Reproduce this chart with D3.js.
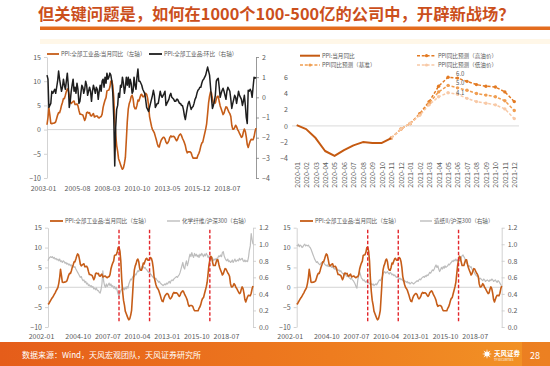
<!DOCTYPE html>
<html><head><meta charset="utf-8">
<script src="https://cdn.jsdelivr.net/npm/d3@7/dist/d3.min.js"></script>
<style>
html,body{margin:0;padding:0;background:#fff;}
svg{display:block;}
</style></head>
<body>
<svg id="chart" width="550" height="366"></svg>
<script>
const FONT = '"Noto Sans CJK SC","Noto Sans",sans-serif';
const titleText = "但关键问题是，如何在1000个100-500亿的公司中，开辟新战场？";
const sourceText = "数据来源：Wind，天风宏观团队，天风证券研究所";
const pageNo = "28";

// PPI YoY (全部工业品:当月同比), monthly from 2002-01
const ppiStart = "2002-01";
const ppiYoY = [
 -4.3,-4.1,-3.7,-3.3,-2.9,-2.6,-2.2,-1.8,-1.4,-0.9,-0.5,-0.1,
 1.0,2.5,4.5,3.0,1.3,1.2,1.3,1.3,1.4,1.6,2.3,3.0,
 3.5,3.5,4.1,5.0,5.6,6.4,6.4,7.1,7.9,8.4,8.1,7.1,
 5.8,5.4,5.6,5.8,5.9,5.2,5.2,5.3,4.9,4.0,3.2,3.2,
 3.1,3.0,2.5,1.9,2.4,3.5,3.6,3.4,3.5,2.9,2.8,3.1,
 3.3,2.6,2.7,2.8,2.8,2.5,2.4,2.6,2.7,3.2,4.6,5.4,
 6.1,6.6,8.0,8.1,8.2,8.8,10.0,10.1,9.1,6.6,2.0,-1.1,
 -3.3,-4.5,-6.0,-6.6,-7.2,-7.8,-8.2,-7.9,-7.0,-5.8,-2.1,1.7,
 4.3,5.4,5.9,6.8,7.1,6.4,4.8,4.3,4.3,5.0,6.1,5.9,
 6.6,7.2,7.3,6.8,6.8,7.1,7.5,7.3,6.5,5.0,2.7,1.7,
 0.7,0.0,-0.3,-0.7,-1.4,-2.1,-2.9,-3.5,-3.6,-2.8,-2.2,-1.9,
 -1.6,-1.6,-1.9,-2.6,-2.9,-2.7,-2.3,-1.6,-1.3,-1.5,-1.4,-1.4,
 -1.6,-2.0,-2.3,-2.0,-1.4,-1.1,-0.9,-1.2,-1.8,-2.2,-2.7,-3.3,
 -4.3,-4.8,-4.6,-4.6,-4.6,-4.8,-5.4,-5.9,-5.9,-5.9,-5.9,-5.9,
 -5.3,-4.9,-4.3,-3.4,-2.8,-2.6,-1.7,-0.8,0.1,1.2,3.3,5.5,
 6.9,7.8,7.6,6.4,5.5,5.5,5.5,6.3,6.9,6.9,5.8,4.9,
 4.3,3.7,3.1,3.4,4.1,4.7,4.6,4.1,3.6,3.3,2.7,0.9,
 0.1,0.1,0.4,0.9,0.6,0.0,-0.3,-0.8,-1.2,-1.6,-1.4,-0.5,
 0.1,-0.4,-1.5,-3.1,-3.7,-3.0,-2.4,-2.0,-2.1,-2.1,-1.5,-0.4,
 0.3
];
// PPI MoM (环比), monthly from 2003-01
const momStart = "2003-01";
const ppiMoM = [
 1.1,0.9,-0.5,-0.4,-0.3,0.3,0.2,0.3,0.4,0.2,0.5,0.8,
 1.3,0.9,0.6,0.3,0.5,0.9,0.6,0.4,0.8,1.2,0.6,-0.5,
 -0.2,0.3,0.6,0.9,0.3,0.5,0.2,0.7,0.4,-0.3,-0.2,0.2,
 0.6,0.5,0.2,0.4,0.8,0.6,0.1,0.3,0.5,0.3,-0.2,0.3,
 0.6,0.4,0.2,0.5,0.4,-0.1,0.3,0.6,0.3,0.8,0.9,0.5,
 1.0,0.7,1.2,0.9,1.0,1.2,1.1,0.8,0.2,-1.0,-3.4,-1.5,
 -0.6,-0.4,0.2,0.0,0.6,0.5,1.0,0.7,0.2,0.5,1.0,0.6,
 1.0,0.5,0.9,0.7,0.2,0.3,1.0,0.6,0.4,1.0,1.4,0.8,
 0.8,0.7,0.6,0.4,0.3,0.2,-0.1,-0.5,-0.6,-0.7,-0.5,-0.3,
 -0.1,0.1,0.35,0.1,-0.5,-0.4,-0.3,-0.3,0.0,0.3,0.1,0.0,
 0.1,0.2,0.3,-0.4,-0.3,-0.2,-0.1,0.1,0.2,0.0,-0.05,-0.1,
 -0.2,-0.2,-0.1,-0.1,-0.2,-0.3,-0.3,-0.4,-0.4,-0.6,-0.9,-1.1,
 -0.8,-0.5,-0.3,-0.2,-0.4,-0.6,-0.5,-0.45,-0.3,-0.1,0.0,0.2,
 0.35,0.4,0.5,0.5,0.7,0.85,0.9,1.0,1.1,1.3,1.5,1.3,
 1.1,0.5,0.0,-0.55,-0.4,-0.2,0.1,0.8,0.9,0.95,0.5,0.0,
 0.2,0.35,0.45,0.3,0.1,-0.1,0.3,0.5,0.4,0.3,-0.1,-0.55,
 -0.3,-0.1,0.1,0.0,-0.3,0.0,0.3,0.1,0.0,-0.1,-0.4,-0.2,
 0.1,-0.4,-1.0,-1.3,0.35,0.3,0.4,0.3,0.0,0.5,1.0,0.95,
 1.0
];
// 化学纤维/沪深300, monthly from 2002-01
const chemRatio = [
 0.80,0.83,0.84,0.85,0.84,0.85,0.83,0.84,0.82,0.83,0.81,0.82,
 0.80,0.82,0.79,0.80,0.78,0.80,0.79,0.77,0.78,0.76,0.77,0.75,
 0.76,0.74,0.75,0.73,0.74,0.72,0.73,0.70,0.68,0.66,0.64,0.62,
 0.60,0.61,0.58,0.56,0.57,0.54,0.55,0.52,0.53,0.50,0.51,0.49,
 0.50,0.48,0.49,0.46,0.47,0.45,0.47,0.44,0.44,0.42,0.41,0.45,
 0.52,0.68,0.55,0.50,0.48,0.52,0.49,0.51,0.53,0.50,0.52,0.49,
 0.50,0.47,0.49,0.46,0.48,0.44,0.40,0.37,0.41,0.44,0.46,0.45,
 0.47,0.45,0.48,0.46,0.49,0.47,0.52,0.55,0.58,0.57,0.60,0.62,
 0.61,0.64,0.63,0.66,0.68,0.67,0.70,0.69,0.72,0.74,0.73,0.71,
 0.72,0.70,0.69,0.67,0.66,0.67,0.64,0.63,0.61,0.60,0.59,0.58,
 0.59,0.57,0.56,0.54,0.55,0.53,0.52,0.51,0.50,0.51,0.52,0.51,
 0.53,0.52,0.54,0.55,0.53,0.56,0.57,0.56,0.58,0.59,0.60,0.61,
 0.60,0.62,0.63,0.66,0.70,0.74,0.78,0.72,0.70,0.76,0.80,0.74,
 0.78,0.84,0.88,0.85,0.90,0.86,0.84,0.89,0.86,0.88,0.85,0.87,
 0.84,0.88,0.86,0.89,0.87,0.85,0.88,0.86,0.89,0.87,0.84,0.86,
 0.79,0.82,0.84,0.83,0.80,0.82,0.81,0.83,0.80,0.84,0.86,0.85,
 0.87,0.85,0.90,0.91,0.86,0.83,0.81,0.80,0.82,0.79,0.80,0.78,
 0.79,0.81,0.78,0.80,0.82,0.79,0.80,0.81,0.80,0.83,0.81,0.82,
 0.83,0.80,0.79,0.81,0.79,0.80,0.79,0.84,0.93,0.98,1.13,1.06,
 1.00
];
// 造纸II/沪深300, monthly from 2002-01
const paperRatio = [
 0.99,0.98,1.00,0.97,0.99,0.98,0.96,0.97,0.99,1.00,0.98,0.99,
 0.98,0.99,0.97,0.96,0.94,0.91,0.88,0.85,0.82,0.80,0.78,0.79,
 0.77,0.76,0.75,0.77,0.78,0.79,0.78,0.76,0.75,0.74,0.75,0.73,
 0.74,0.73,0.74,0.72,0.73,0.71,0.70,0.71,0.69,0.70,0.68,0.69,
 0.67,0.68,0.66,0.65,0.64,0.63,0.64,0.62,0.61,0.62,0.60,0.59,
 0.58,0.59,0.57,0.56,0.54,0.52,0.49,0.47,0.57,0.62,0.67,0.63,
 0.59,0.58,0.56,0.57,0.55,0.54,0.56,0.53,0.54,0.52,0.53,0.52,
 0.51,0.52,0.50,0.51,0.52,0.51,0.53,0.55,0.57,0.56,0.58,0.60,
 0.64,0.66,0.67,0.65,0.66,0.67,0.65,0.64,0.66,0.65,0.63,0.64,
 0.62,0.63,0.61,0.60,0.61,0.59,0.58,0.59,0.57,0.58,0.56,0.55,
 0.56,0.55,0.54,0.55,0.53,0.54,0.52,0.53,0.54,0.53,0.52,0.53,
 0.54,0.55,0.56,0.55,0.57,0.58,0.57,0.59,0.60,0.61,0.60,0.62,
 0.61,0.63,0.62,0.64,0.66,0.65,0.67,0.69,0.68,0.70,0.73,0.75,
 0.72,0.74,0.70,0.67,0.69,0.72,0.70,0.73,0.71,0.74,0.72,0.73,
 0.74,0.76,0.75,0.77,0.78,0.80,0.79,0.81,0.80,0.82,0.80,0.81,
 0.79,0.81,0.80,0.84,0.86,0.87,0.85,0.83,0.79,0.77,0.76,0.73,
 0.74,0.72,0.73,0.70,0.68,0.67,0.65,0.63,0.62,0.61,0.60,0.58,
 0.59,0.58,0.57,0.56,0.58,0.57,0.55,0.56,0.57,0.56,0.55,0.57,
 0.56,0.58,0.57,0.55,0.56,0.57,0.55,0.54,0.56,0.55,0.53,0.51,
 0.50
];
const topTicks = ["2003-01","2005-08","2008-03","2010-10","2013-05","2015-12","2018-07"];
const bottomTicks = ["2002-01","2004-10","2007-07","2010-04","2013-01","2015-10","2018-07"];
const yoyTicks = [-10,-5,0,5,10,15];
const momTicks = [-4,-3,-2,-1,0,1,2];
const ratioTicks = [0,0.2,0.4,0.6,0.8,1.0,1.2];
const peakDates = ["2008-08","2011-06","2017-01"];

// Panel 2: PPI forecast
const months2 = ["2020-01","2020-02","2020-03","2020-04","2020-05","2020-06","2020-07","2020-08","2020-09","2020-10","2020-11","2020-12",
 "2021-01","2021-02","2021-03","2021-04","2021-05","2021-06","2021-07","2021-08","2021-09","2021-10","2021-11","2021-12"];
const actual2 = [0.1,-0.4,-1.5,-3.1,-3.7,-3.0,-2.4,-2.0,-2.1,-2.1,-1.5];
const fcStart2 = "2020-11";
const fcBase = [-1.5,-0.4,0.3,1.4,2.8,4.2,5.0,4.7,4.4,4.0,3.8,3.6,3.1,1.9];
const fcHigh = [-1.5,-0.4,0.3,1.5,3.0,4.9,6.0,5.9,5.5,5.1,4.9,4.8,4.2,3.0];
const fcLow  = [-1.5,-0.4,0.3,1.3,2.6,3.6,4.1,3.9,3.4,3.0,2.8,2.6,2.1,0.9];
const ticks2 = [-4,-2,0,2,4,6];
const labelMonth2 = "2021-05";

const legendP1 = ["PPI:全部工业品:当月同比（左轴）","PPI:全部工业品:环比（右轴）"];
const legendP2 = ["PPI:当月同比","PPI同比预测（基准）","PPI同比预测（高油价）","PPI同比预测（低油价）"];
const legendP3 = ["PPI:全部工业品:当月同比（左轴）","化学纤维/沪深300（右轴）"];
const legendP4 = ["PPI:全部工业品:当月同比（左轴）","造纸II/沪深300（右轴）"];

// ---------------------------------------------------------------
const C_PPI = "#C65D18", C_BLACK = "#1E1E1E", C_GRAY = "#BDBDBD", C_RED = "#E3262B";
const C_TXT = "#595959";
const svg = d3.select("#chart").attr("font-family", FONT);
const fmtM = s => { const [y, m] = s.split("-").map(Number); return new Date(y, m - 1, 1); };
const addM = (d, k) => new Date(d.getFullYear(), d.getMonth() + k, 1);

// header
svg.append("rect").attr("x", 40).attr("y", 39).attr("width", 510).attr("height", 5).attr("fill", "#FFF7E8");
svg.append("text").attr("x", 38).attr("y", 20).attr("font-size", 16.3).attr("font-weight", "bold")
  .attr("fill", "#CB4F1C").text(titleText);
svg.append("rect").attr("x", 40).attr("y", 26.5).attr("width", 510).attr("height", 3.5).attr("fill", "#E36C1E");

// footer
const defs = svg.append("defs");
const gr = defs.append("linearGradient").attr("id", "fg").attr("x1", "0").attr("x2", "1");
gr.append("stop").attr("offset", "0").attr("stop-color", "#E55D1A");
gr.append("stop").attr("offset", "0.6").attr("stop-color", "#EE7C1F");
gr.append("stop").attr("offset", "1").attr("stop-color", "#F29426");
svg.append("rect").attr("x", 0).attr("y", 342).attr("width", 550).attr("height", 24).attr("fill", "url(#fg)");
svg.append("rect").attr("x", 522).attr("y", 342).attr("width", 28).attr("height", 24).attr("fill", "#E8731F").attr("opacity", 0.6);
svg.append("text").attr("x", 22).attr("y", 358).attr("font-size", 8).attr("fill", "#fff").text(sourceText);
const star = d3.range(16).map(i => { const a = i * Math.PI / 8, r = i % 2 ? 2 : 5; return [487 + r * Math.cos(a), 354 + r * Math.sin(a)]; });
svg.append("polygon").attr("points", star.map(p => p.join(",")).join(" ")).attr("fill", "#fff");
svg.append("text").attr("x", 494).attr("y", 356).attr("font-size", 6.5).attr("font-weight", "bold").attr("fill", "#fff").text("天风证券");
svg.append("text").attr("x", 494).attr("y", 360.5).attr("font-size", 2.8).attr("fill", "#fff").text("TF SECURITIES");
svg.append("text").attr("x", 530).attr("y", 359).attr("font-size", 9).attr("fill", "#fff").text(pageNo);

function styleAxis(sel, color) {
  sel.attr("font-size", null).attr("font-family", null);
  sel.selectAll("path").attr("stroke", color).attr("stroke-width", 0.8);
  sel.selectAll("line").attr("stroke", color).attr("stroke-width", 0.8);
  sel.selectAll("text").attr("fill", C_TXT).style("font-size", "7px");
}

function legend(g, items, fs) {
  items.forEach(it => {
    g.append("line").attr("x1", it.x1).attr("x2", it.x2).attr("y1", it.y).attr("y2", it.y)
      .attr("stroke", it.color).attr("stroke-width", it.w).attr("stroke-dasharray", it.dash || null);
    if (it.dot) g.append("circle").attr("cx", (it.x1 + it.x2) / 2).attr("cy", it.y).attr("r", 1.6).attr("fill", it.color);
    g.append("text").attr("x", it.x2 + 2).attr("y", it.y + 2).attr("font-size", fs).attr("fill", C_TXT).text(it.label);
  });
}

function timePanel(o) {
  const g = svg.append("g");
  const x = d3.scaleTime().domain(o.domain.map(fmtM)).range([o.x0, o.x1]);
  const yL = d3.scaleLinear().domain(o.leftDomain).range([o.yBot, o.yTop]);
  const yR = d3.scaleLinear().domain(o.rightDomain).range([o.yBot, o.yTop]);
  g.append("line").attr("x1", o.x0).attr("x2", o.x1).attr("y1", yL(0)).attr("y2", yL(0))
    .attr("stroke", "#C8C8C8").attr("stroke-width", 0.8);
  const gl = g.append("g").attr("transform", `translate(${o.x0},0)`)
    .call(d3.axisLeft(yL).tickValues(o.leftTicks).tickSize(3).tickSizeOuter(0).tickPadding(3));
  styleAxis(gl, "#C8C8C8");
  const grr = g.append("g").attr("transform", `translate(${o.x1},0)`)
    .call(d3.axisRight(yR).tickValues(o.rightTicks).tickFormat(o.rightFmt).tickSize(3).tickSizeOuter(0).tickPadding(3));
  styleAxis(grr, o.rightAxisColor);
  const gx = g.append("g").attr("transform", `translate(0,${o.xLabelY})`)
    .call(d3.axisBottom(x).tickValues(o.xTicks.map(fmtM)).tickFormat(d3.timeFormat("%Y-%m")).tickSize(0));
  gx.select(".domain").remove();
  styleAxis(gx, "none");
  gx.selectAll("text").attr("y", 0).attr("dy", 0).attr("dx", (d, i) => i === 0 ? o.firstShift : 0);

  const lineGen = (scale, start) => d3.line().x((d, i) => x(addM(fmtM(start), i))).y(d => scale(d));
  const drawP = () => g.append("path").datum(o.primary.data).attr("d", lineGen(yL, o.primary.start))
    .attr("fill", "none").attr("stroke", o.primary.color).attr("stroke-width", o.primary.width).attr("stroke-linejoin", "round");
  const drawS = () => g.append("path").datum(o.secondary.data).attr("d", lineGen(yR, o.secondary.start))
    .attr("fill", "none").attr("stroke", o.secondary.color).attr("stroke-width", o.secondary.width).attr("stroke-linejoin", "round");
  if (o.secondaryOnTop) { drawP(); drawS(); } else { drawS(); drawP(); }

  if (o.markers) {
    o.markers.forEach(dt => {
      g.append("line").attr("x1", x(fmtM(dt))).attr("x2", x(fmtM(dt)))
        .attr("y1", yL(o.markerRange[1])).attr("y2", yL(o.markerRange[0]))
        .attr("stroke", C_RED).attr("stroke-width", 1.4).attr("stroke-dasharray", "3.5,2");
    });
  }
  legend(g, o.legend, 5.6);
}

// Panel 1
timePanel({
  domain: ["2003-01", "2021-01"], x0: 47, x1: 256, yTop: 57, yBot: 178,
  leftDomain: [-10, 15], rightDomain: [-4, 2], leftTicks: yoyTicks, rightTicks: momTicks,
  rightFmt: d3.format("d"), rightAxisColor: "#7F7F7F",
  xTicks: topTicks, xLabelY: 190.5, firstShift: -4,
  primary: { data: ppiYoY.slice(12), start: "2003-01", color: C_PPI, width: 1.6 },
  secondary: { data: ppiMoM, start: momStart, color: C_BLACK, width: 1.5 },
  secondaryOnTop: true,
  legend: [
    { x1: 47, x2: 59, y: 54, color: C_PPI, w: 1.8, label: legendP1[0] },
    { x1: 149, x2: 162, y: 54, color: C_BLACK, w: 1.8, label: legendP1[1] }
  ]
});

// Panel 3
timePanel({
  domain: [ppiStart, "2021-01"], x0: 48, x1: 253, yTop: 227.7, yBot: 327,
  leftDomain: [-10, 15], rightDomain: [0, 1.2], leftTicks: yoyTicks, rightTicks: ratioTicks,
  rightFmt: d3.format(".1f"), rightAxisColor: "#C8C8C8",
  xTicks: bottomTicks, xLabelY: 338.5, firstShift: -7,
  primary: { data: ppiYoY, start: ppiStart, color: C_PPI, width: 1.6 },
  secondary: { data: chemRatio, start: ppiStart, color: C_GRAY, width: 1.2 },
  secondaryOnTop: false, markers: peakDates, markerRange: [-8.9, 14.5],
  legend: [
    { x1: 50, x2: 63, y: 221, color: C_PPI, w: 1.8, label: legendP3[0] },
    { x1: 167, x2: 180, y: 221, color: C_GRAY, w: 1.4, label: legendP3[1] }
  ]
});

// Panel 4
timePanel({
  domain: [ppiStart, "2021-01"], x0: 296.7, x1: 501.7, yTop: 227.7, yBot: 327,
  leftDomain: [-10, 15], rightDomain: [0, 1.2], leftTicks: yoyTicks, rightTicks: ratioTicks,
  rightFmt: d3.format(".1f"), rightAxisColor: "#C8C8C8",
  xTicks: bottomTicks, xLabelY: 338.5, firstShift: -7,
  primary: { data: ppiYoY, start: ppiStart, color: C_PPI, width: 1.6 },
  secondary: { data: paperRatio, start: ppiStart, color: C_GRAY, width: 1.2 },
  secondaryOnTop: false, markers: peakDates, markerRange: [-8.9, 14.5],
  legend: [
    { x1: 300, x2: 313, y: 221, color: C_PPI, w: 1.8, label: legendP4[0] },
    { x1: 420, x2: 432, y: 221, color: C_GRAY, w: 1.4, label: legendP4[1] }
  ]
});

// Panel 2
(function () {
  const g = svg.append("g");
  const x = d3.scalePoint().domain(months2).range([296.7, 514.3]);
  const y = d3.scaleLinear().domain([-4, 6]).range([158.3, 77.3]);
  g.append("line").attr("x1", 292).attr("x2", 519).attr("y1", y(0)).attr("y2", y(0))
    .attr("stroke", "#D0D0D0").attr("stroke-width", 0.8);
  const gy = g.append("g").attr("transform", "translate(288,0)")
    .call(d3.axisLeft(y).tickValues(ticks2).tickSize(0).tickPadding(0));
  gy.select(".domain").remove();
  styleAxis(gy, "none");
  const gx = g.append("g").attr("transform", "translate(0,158)")
    .call(d3.axisBottom(x).tickSize(0));
  gx.select(".domain").remove();
  styleAxis(gx, "none");
  gx.selectAll("text").attr("transform", "rotate(-90)").attr("text-anchor", "end")
    .attr("x", -4).attr("y", 0).attr("dy", "0.35em");

  const i0 = months2.indexOf(fcStart2);
  const fcLine = d3.line().x((d, i) => x(months2[i0 + i])).y(d => y(d));
  const series = [
    { data: fcHigh, color: "#E37A22", dot: "#E37A22" },
    { data: fcBase, color: "#F09D50", dot: "#F09D50" },
    { data: fcLow, color: "#F8C9A6", dot: "#F8C9A6" }
  ];
  series.forEach(s => {
    g.append("path").datum(s.data).attr("d", fcLine).attr("fill", "none")
      .attr("stroke", s.color).attr("stroke-width", 1.5).attr("stroke-dasharray", "3,1.8");
    g.selectAll(null).data(s.data).join("circle")
      .attr("cx", (d, i) => x(months2[i0 + i])).attr("cy", d => y(d)).attr("r", 1.7).attr("fill", s.dot);
  });
  const aLine = d3.line().x((d, i) => x(months2[i])).y(d => y(d));
  g.append("path").datum(actual2).attr("d", aLine).attr("fill", "none")
    .attr("stroke", "#C55A11").attr("stroke-width", 2).attr("stroke-linejoin", "round");

  const li = months2.indexOf(labelMonth2) - i0;
  const labelNudge = [-3, -2.2, -0.2];
  [fcHigh, fcBase, fcLow].forEach((arr, k) => {
    g.append("text").attr("x", x(labelMonth2) + 8).attr("y", y(arr[li]) + labelNudge[k])
      .attr("dy", "0.35em").attr("font-size", 6).attr("fill", C_TXT).text(d3.format(".1f")(arr[li]));
  });

  legend(g, [
    { x1: 300, x2: 320, y: 55.7, color: "#C55A11", w: 2, label: legendP2[0] },
    { x1: 300, x2: 320, y: 65, color: "#F09D50", w: 1.5, dash: "3,1.8", dot: true, label: legendP2[1] },
    { x1: 417, x2: 436, y: 55.7, color: "#E37A22", w: 1.5, dash: "3,1.8", dot: true, label: legendP2[2] },
    { x1: 417, x2: 436, y: 65, color: "#F8C9A6", w: 1.5, dash: "3,1.8", dot: true, label: legendP2[3] }
  ], 5.6);
})();
</script>
</body></html>
